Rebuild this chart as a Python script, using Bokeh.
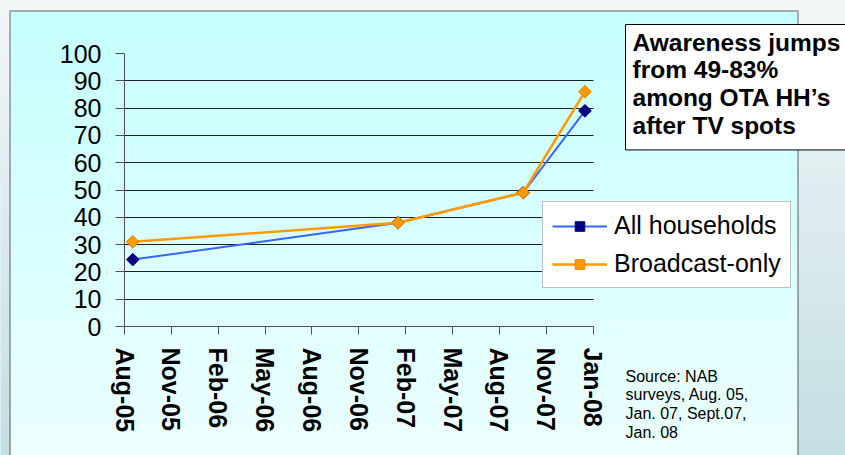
import math
import pandas as pd
from bokeh.plotting import figure
from bokeh.models import (FixedTicker, Range1d, Legend, LegendItem, Label,
                          BoxAnnotation, ColumnDataSource)
from bokeh.embed import file_html
from bokeh.resources import INLINE

# ---------------- data ----------------
survey_dates = ["2005-08-17", "2007-01-14", "2007-09-14", "2008-01-12"]
all_households = [24.5, 38, 49, 79]
broadcast_only = [31, 38, 49, 86]

axis_start = "2005-08-01"
tick_step_days = 91
tick_labels = ["Aug-05", "Nov-05", "Feb-06", "May-06", "Aug-06", "Nov-06",
               "Feb-07", "May-07", "Aug-07", "Nov-07", "Jan-08"]
y_ticks = [0, 10, 20, 30, 40, 50, 60, 70, 80, 90, 100]
grid_ticks = [10, 20, 30, 40, 50, 60, 70, 80, 90]

series_names = ["All households", "Broadcast-only"]
note_text = "Awareness jumps\nfrom 49-83%\namong OTA HH\u2019s\nafter TV spots"
source_text = "Source: NAB\nsurveys, Aug. 05,\nJan. 07, Sept.07,\nJan. 08"

# ---------------- derived ----------------
start = pd.Timestamp(axis_start)
xdays = [(pd.Timestamp(d) - start).days for d in survey_dates]
tick_pos = [i * tick_step_days for i in range(len(tick_labels))]
x_max = tick_pos[-1]
y_max = y_ticks[-1]

src = ColumnDataSource(dict(x=xdays, a=all_households, b=broadcast_only))

# ---------------- layout (canvas px, y measured downward) ----------------
W, H = 845, 455
AL, AR, AT, AB = 124, 592.7, 53, 326      # plotting area edges
sx = x_max / (AR - AL)
sy = y_max / (AB - AT)
x_range = Range1d(-AL * sx, x_max + (W - AR) * sx)
y_range = Range1d(-(H - AB) * sy, y_max + AT * sy)

p = figure(width=W, height=H, output_backend="svg", toolbar_location=None,
           x_range=x_range, y_range=y_range,
           min_border=0, min_border_left=0, min_border_right=0,
           min_border_top=0, min_border_bottom=0)
p.outline_line_color = None
p.background_fill_color = "#d2e6e9"
p.border_fill_color = "#d2e6e9"

def mix(c1, c2, t):
    return "#%02x%02x%02x" % tuple(int(round(c1[i] + (c2[i] - c1[i]) * t)) for i in range(3))

def cbox(left, right, top_down, bottom_down, **kw):
    # box in canvas px, y measured downward -> converted to upward units
    return BoxAnnotation(left=left, right=right, top=H - top_down, bottom=H - bottom_down,
                         left_units="screen", right_units="screen",
                         top_units="screen", bottom_units="screen", **kw)

# outer page gradient
nb = 30
for i in range(nb):
    t = i / (nb - 1)
    p.add_layout(cbox(0, W, i * H / nb, (i + 1) * H / nb + 1,
                      fill_color=mix((242, 246, 247), (196, 223, 227), t),
                      fill_alpha=1, line_color=None, level="image"))
# chart box gradient
for i in range(nb):
    t = i / (nb - 1)
    y0 = 11 + i * (H - 11) / nb
    y1 = 11 + (i + 1) * (H - 11) / nb + 1
    p.add_layout(cbox(10, 797, y0, y1,
                      fill_color=mix((198, 255, 255), (236, 255, 255), t),
                      fill_alpha=1, line_color=None, level="image"))
# chart box border
p.add_layout(cbox(9.5, 797.5, 10.5, H + 10, fill_color=None, fill_alpha=0,
                  line_color="black", line_width=2, level="image"))

# ---------------- axes ----------------
p.xaxis.fixed_location = 0
p.xaxis.bounds = (0, x_max)
p.xaxis.ticker = FixedTicker(ticks=tick_pos)
p.xaxis.major_label_overrides = {tp: lab for tp, lab in zip(tick_pos, tick_labels)}
p.xaxis.major_label_orientation = "vertical"
p.xaxis.major_label_text_font = "Liberation Sans"
p.xaxis.major_label_text_font_style = "bold"
p.xaxis.major_label_text_font_size = "25px"
p.xaxis.major_label_text_color = "black"
p.xaxis.major_label_standoff = 13
p.xaxis.major_tick_out = 8
p.xaxis.major_tick_in = 0
p.xaxis.minor_tick_line_color = None
p.xaxis.axis_line_color = "#505050"
p.xaxis.major_tick_line_color = "#505050"

p.yaxis.fixed_location = 0
p.yaxis.bounds = (0, y_max)
p.yaxis.ticker = FixedTicker(ticks=y_ticks)
p.yaxis.major_label_text_font = "Liberation Sans"
p.yaxis.major_label_text_font_size = "25px"
p.yaxis.major_label_text_color = "black"
p.yaxis.major_label_standoff = 14
p.yaxis.major_tick_out = 9
p.yaxis.major_tick_in = 0
p.yaxis.minor_tick_line_color = None
p.yaxis.axis_line_color = "#505050"
p.yaxis.major_tick_line_color = "#505050"

p.xgrid.grid_line_color = None
p.ygrid.ticker = FixedTicker(ticks=grid_ticks)
p.ygrid.cross_bounds = (0, x_max)
p.ygrid.grid_line_color = "#202020"
p.ygrid.grid_line_width = 1

# ---------------- series ----------------
l1 = p.line("x", "a", source=src, line_color="#3366ff", line_width=2)
m1 = p.scatter("x", "a", source=src, marker="square", size=9, angle=math.pi / 4,
               fill_color="#000080", line_color="#000080")
l2 = p.line("x", "b", source=src, line_color="#ff9900", line_width=2.5)
m2 = p.scatter("x", "b", source=src, marker="square", size=9, angle=math.pi / 4,
               fill_color="#ff9900", line_color="#e08600")

legend = Legend(items=[LegendItem(label=series_names[0], renderers=[l1, m1]),
                       LegendItem(label=series_names[1], renderers=[l2, m2])],
                location=(542, H - 288), orientation="vertical",
                label_text_font="Liberation Sans", label_text_font_size="25px",
                label_text_color="black", glyph_width=55, glyph_height=24,
                label_standoff=7, padding=9, spacing=9, margin=0,
                border_line_color="#808080", border_line_width=1,
                background_fill_color="white", background_fill_alpha=1)
p.add_layout(legend, "center")

# padding order: (left, right, top, bottom)
note = Label(x=625, y=H - 24, x_units="screen", y_units="screen",
             text=note_text, anchor="top_left",
             text_font="Liberation Sans", text_font_style="bold",
             text_font_size="24.5px", text_color="black", text_line_height=1.03,
             background_fill_color="white", background_fill_alpha=1,
             border_line_color="black", border_line_width=1,
             padding=(7, 40, 4, 11))
p.add_layout(note)

src_note = Label(x=625, y=H - 367, x_units="screen", y_units="screen",
                 text=source_text, anchor="top_left",
                 text_font="Liberation Sans", text_font_size="16px",
                 text_color="black", text_line_height=1.1)
p.add_layout(src_note)

open("out.html", "w").write(file_html(p, INLINE))
